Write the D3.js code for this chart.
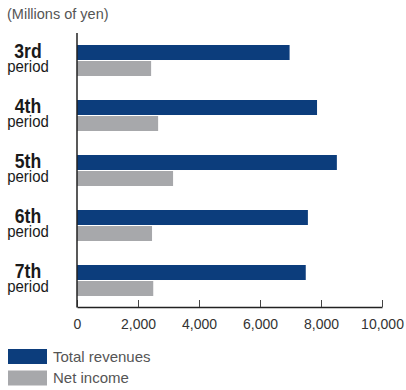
<!DOCTYPE html>
<html>
<head>
<meta charset="utf-8">
<script src="https://cdn.jsdelivr.net/npm/d3@7/dist/d3.min.js"></script>
<style>
  html, body { margin: 0; padding: 0; background: #fff; }
  svg { display: block; }
</style>
</head>
<body>
<svg id="chart" width="406" height="390"></svg>
<script>
// Fiscal periods shown as row groups
const periods = ["3rd", "4th", "5th", "6th", "7th"];
// Values in millions of yen
const totalRevenues = [6970, 7870, 8520, 7570, 7500];
const netIncome = [2430, 2660, 3150, 2460, 2500];
const xTicks = [0, 2000, 4000, 6000, 8000, 10000];
const seriesNames = ["Total revenues", "Net income"];
const seriesColors = ["#0c3d7c", "#a7a8ab"];

const svg = d3.select("#chart");
const sans = "'Liberation Sans', Arial, sans-serif";

const x = d3.scaleLinear().domain([0, 10000]).range([77, 382]);
const y = d3.scaleBand().domain(periods).range([45, 320]).paddingInner(0).paddingOuter(0);
const barH = 15, barGap = 1;

const rows = periods.map((p, i) => ({ p, vals: [totalRevenues[i], netIncome[i]] }));

// Bars
const g = svg.append("g");
rows.forEach(r => {
  r.vals.forEach((v, j) => {
    g.append("rect")
      .attr("x", x(0))
      .attr("y", y(r.p) + j * (barH + barGap))
      .attr("width", x(v) - x(0))
      .attr("height", barH)
      .attr("fill", seriesColors[j]);
  });
});

// Category labels, horizontally condensed
rows.forEach(r => {
  const lg = svg.append("g")
    .attr("transform", `translate(28,${y(r.p)}) scale(0.88,1)`)
    .attr("fill", "#1a1a1a")
    .style("font-family", sans)
    .attr("text-anchor", "middle");
  lg.append("text").attr("y", 13)
    .style("font-size", "20px").style("font-weight", "bold").text(r.p);
  lg.append("text").attr("y", 27)
    .style("font-size", "17px").text("period");
});

// X axis with inward ticks
const axis = d3.axisBottom(x).tickValues(xTicks).tickSize(-7).tickSizeOuter(0)
  .tickFormat(d3.format(","));
const ax = svg.append("g").attr("transform", "translate(0,307)").call(axis);
ax.select(".domain").attr("stroke", "#222").attr("stroke-width", 1.3);
ax.selectAll(".tick line").attr("stroke", "#444");
ax.selectAll(".tick text")
  .attr("y", 12)
  .attr("fill", "#333")
  .style("font-family", sans)
  .style("font-size", "14px");

// Vertical baseline
svg.append("line")
  .attr("x1", x(0)).attr("x2", x(0))
  .attr("y1", 33).attr("y2", 307.5)
  .attr("stroke", "#222").attr("stroke-width", 1.5);

// Unit caption
svg.append("text")
  .attr("x", 7).attr("y", 19)
  .attr("fill", "#555")
  .style("font-family", sans)
  .style("font-size", "14.5px")
  .text("(Millions of yen)");

// Legend
seriesNames.forEach((name, i) => {
  const ly = 349 + i * 21.5;
  svg.append("rect").attr("x", 8).attr("y", ly).attr("width", 39).attr("height", 15)
    .attr("fill", seriesColors[i]);
  svg.append("text").attr("x", 53).attr("y", ly + 12.5)
    .attr("fill", "#555")
    .style("font-family", sans)
    .style("font-size", "15px")
    .text(name);
});
</script>
</body>
</html>
